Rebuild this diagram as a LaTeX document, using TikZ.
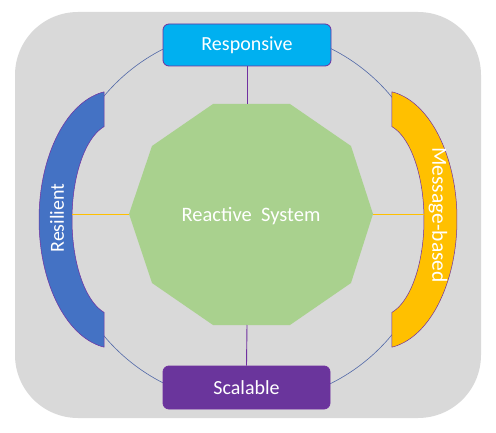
\documentclass[tikz,border=0pt]{standalone}
\usepackage{fontspec}
\setmainfont{Carlito}
\definecolor{bggray}{HTML}{D9D9D9}
\definecolor{cyanbox}{HTML}{00B0F0}
\definecolor{purplebox}{HTML}{6A359C}
\definecolor{purpleline}{HTML}{7030A0}
\definecolor{bluearc}{HTML}{4472C4}
\definecolor{orangearc}{HTML}{FFC000}
\definecolor{greenoct}{HTML}{A9D18E}
\definecolor{ringcol}{HTML}{5269A8}
\tikzset{
  boxstyle/.style={draw=purpleline, line width=0.8pt, rounded corners=6pt, text=white, font=\fontsize{20}{24}\selectfont},
  arcshape/.style={draw=purpleline, line width=0.5pt},
  labeltext/.style={text=white, font=\fontsize{20}{24}\selectfont},
  spoke/.style={line width=0.9pt}
}
\begin{document}
\begin{tikzpicture}[x=1pt,y=-1pt]
\useasboundingbox (0,0) rectangle (496,433);
% background
\fill[bggray, rounded corners=63pt] (15,12) rectangle (481,418);
% ring
\draw[ringcol, line width=0.6pt] (247.5,216) circle[radius=187];
% spokes endpoints
\coordinate (lin) at (72,214);
\coordinate (rin) at (424,214);
% decagon
\fill[greenoct] (129,214) -- (152,146) -- (213,104) -- (290,104) -- (351,146) -- (373,214) -- (351,283) -- (290,325) -- (213,325) -- (152,283) -- cycle;
\node[labeltext, font=\fontsize{20.5}{24}\selectfont] (core) at (251,216) {Reactive\ \ System};
\coordinate (dl) at (129,214);
\coordinate (dr) at (373,214);
\coordinate (dt) at (247,104);
\coordinate (db) at (247,325);
% block arcs
\filldraw[fill=bluearc, arcshape]
  plot[domain=81.7:-81.7, samples=90] ({115-76*cos(\x)},{219.5-129*sin(\x)})
  -- plot[domain=-75.2:75.2, samples=90] ({115-43*cos(\x)},{219.5-96*sin(\x)}) -- cycle;
\filldraw[fill=orangearc, arcshape]
  plot[domain=81.7:-81.7, samples=90] ({381+76*cos(\x)},{219.5-129*sin(\x)})
  -- plot[domain=-75.2:75.2, samples=90] ({381+43*cos(\x)},{219.5-96*sin(\x)}) -- cycle;
\node[labeltext, rotate=90] (res) at (57,218) {Resilient};
\node[labeltext, rotate=-90, font=\fontsize{21.5}{24}\selectfont] (msg) at (438,215) {Message-based};
% boxes
\node[boxstyle, fill=cyanbox, minimum width=168pt, minimum height=42pt, inner sep=0pt] (resp) at (247,45) {Responsive};
\node[boxstyle, fill=purplebox, minimum width=167pt, minimum height=43pt, inner sep=0pt] (scal) at (246.5,387.5) {Scalable};
% spokes
\draw[spoke, purpleline] (resp.south) -- (dt);
\draw[spoke, purpleline] (db) -- (scal.north);
\draw[spoke, orangearc] (lin) -- (dl);
\draw[spoke, orangearc] (dr) -- (rin);
\end{tikzpicture}
\end{document}
